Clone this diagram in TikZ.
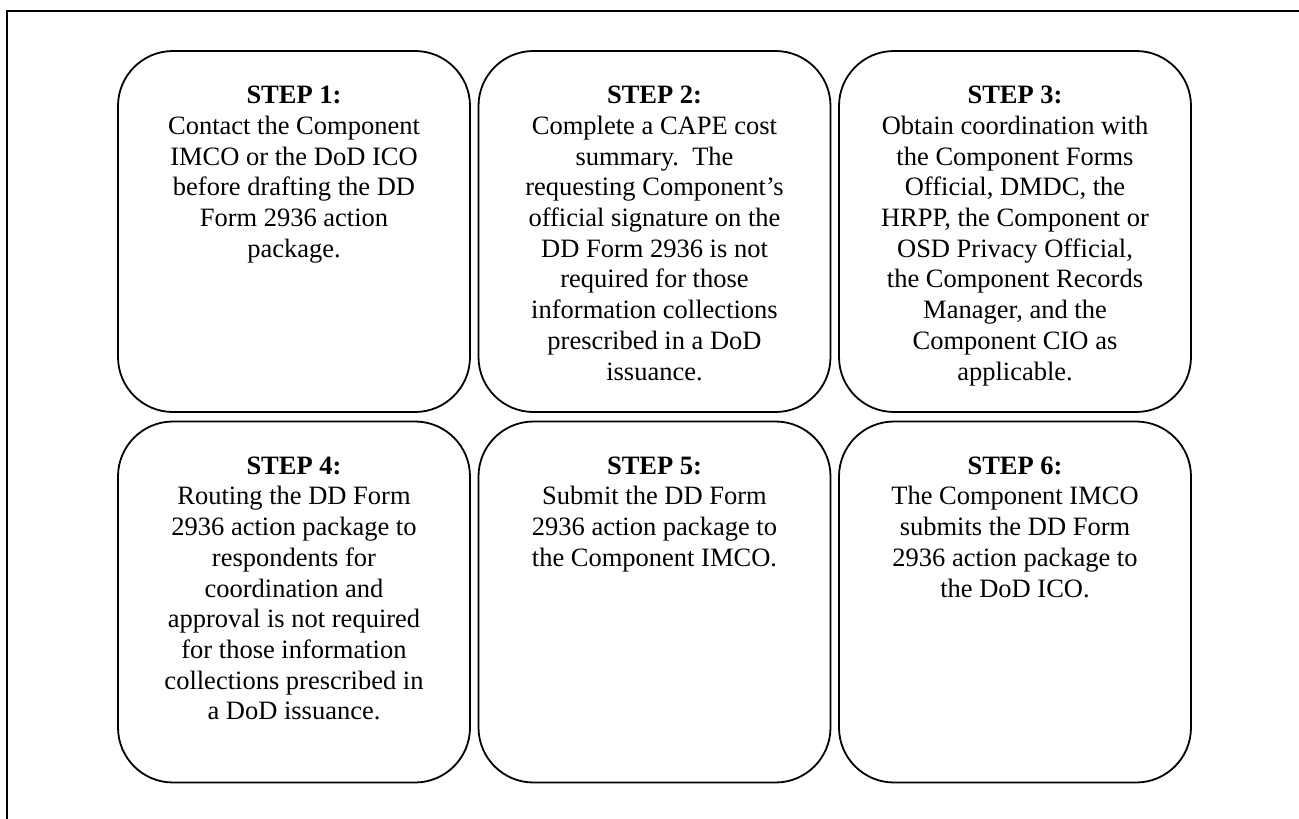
\documentclass[tikz,border=0pt]{standalone}
\usepackage{fontspec}
\setmainfont{Liberation Serif}
\begin{document}
\begin{tikzpicture}[x=1pt,y=-1pt,
  stepbox/.style={draw=black,line width=1.8pt,rounded corners=55pt,minimum width=352pt,minimum height=361pt,inner sep=0pt,outer sep=0pt},
  steptext/.style={anchor=north,align=center,inner sep=0pt,font=\fontsize{26.5}{30.7}\selectfont}
]
\useasboundingbox (0,0) rectangle (1299,819);
\coordinate (ftop) at (1299,11);
\coordinate (fcorner) at (6.5,11);
\coordinate (fbot) at (6.5,819);
\draw[line width=2pt] (ftop) -- (fcorner) -- (fbot);

\node[stepbox] (b1) at (294,231.5) {};
\node[stepbox] (b2) at (654.5,231.5) {};
\node[stepbox] (b3) at (1015,231.5) {};
\node[stepbox] (b4) at (294,602) {};
\node[stepbox] (b5) at (654.5,602) {};
\node[stepbox] (b6) at (1015,602) {};

\node[steptext] (t1) at ([yshift=-35pt]b1.north) {\textbf{STEP 1:}\\Contact the Component\\IMCO or the DoD ICO\\before drafting the DD\\Form 2936 action\\package.};
\node[steptext] (t2) at ([yshift=-35pt]b2.north) {\textbf{STEP 2:}\\Complete a CAPE cost\\summary.\ \ The\\requesting Component’s\\official signature on the\\DD Form 2936 is not\\required for those\\information collections\\prescribed in a DoD\\issuance.};
\node[steptext] (t3) at ([yshift=-35pt]b3.north) {\textbf{STEP 3:}\\Obtain coordination with\\the Component Forms\\Official, DMDC, the\\HRPP, the Component or\\OSD Privacy Official,\\the Component Records\\Manager, and the\\Component CIO as\\applicable.};
\node[steptext] (t4) at ([yshift=-35pt]b4.north) {\textbf{STEP 4:}\\Routing the DD Form\\2936 action package to\\respondents for\\coordination and\\approval is not required\\for those information\\collections prescribed in\\a DoD issuance.};
\node[steptext] (t5) at ([yshift=-35pt]b5.north) {\textbf{STEP 5:}\\Submit the DD Form\\2936 action package to\\the Component IMCO.};
\node[steptext] (t6) at ([yshift=-35pt]b6.north) {\textbf{STEP 6:}\\The Component IMCO\\submits the DD Form\\2936 action package to\\the DoD ICO.};
\end{tikzpicture}
\end{document}
